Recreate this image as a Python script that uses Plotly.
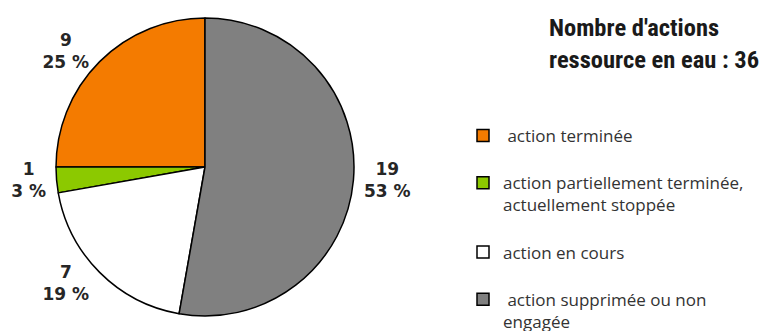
import plotly.graph_objects as go

labels = [" action terminée<br>&nbsp;",
          "action partiellement terminée,<br>actuellement stoppée<br>&nbsp;",
          "action en cours<br>&nbsp;",
          " action supprimée ou non<br>engagée"]
values = [9, 1, 7, 19]
colors = ["#F47B00", "#8CC900", "#FFFFFF", "#808080"]
title_text = "Nombre d'actions<br>ressource en eau : 36"

total = sum(values)
pcts = [round(v * 100 / total) for v in values]

W, H = 767, 331
OFF = 8  # page offset of the figure
cx, cy, r = 205 - OFF, 167 - OFF, 149

fig = go.Figure(go.Pie(
    labels=labels,
    values=values,
    customdata=pcts,
    sort=False,
    direction="counterclockwise",
    rotation=-90,
    marker=dict(colors=colors, line=dict(color="#000000", width=1.5)),
    texttemplate="%{value}<br>%{customdata} %",
    textposition="outside",
    outsidetextfont=dict(family="DejaVu Sans", size=17, color="#262626", weight="bold"),
    hoverinfo="skip",
    domain=dict(x=[(cx - r) / W, (cx + r) / W],
                y=[(H - cy - r) / H, (H - cy + r) / H]),
))

fig.update_layout(
    width=W, height=H,
    margin=dict(l=0, r=0, t=0, b=0, autoexpand=False),
    paper_bgcolor="white",
    plot_bgcolor="white",
    showlegend=True,
    legend=dict(
        x=455 / W, y=1 - 110 / H, xanchor="left", yanchor="top",
        font=dict(family="Open Sans", size=17, color="#333333"),
        valign="top",
        itemclick=False, itemdoubleclick=False,
        tracegroupgap=0,
    ),
    annotations=[dict(
        text="<b>" + title_text + "</b>",
        x=539 / W, xanchor="left", xref="paper",
        y=1 - 3 / H, yanchor="top", yref="paper",
        align="left", showarrow=False,
        font=dict(family="Roboto Condensed, Roboto, sans-serif",
                  size=24.5, color="#1a1a1a"),
    )],
)

fig.write_html("out.html")
